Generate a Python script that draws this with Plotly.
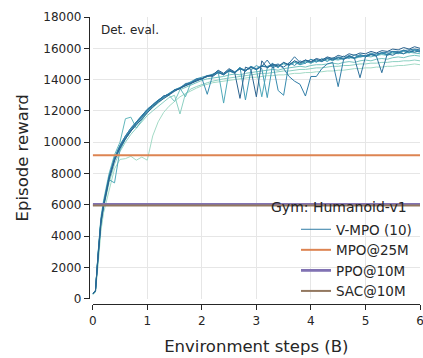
import plotly.graph_objects as go

# ---------------- data ----------------
STEPS = [0, 0.05, 0.1, 0.15,
         0.2, 0.3, 0.4, 0.5, 0.6, 0.7, 0.8, 0.9, 1.0, 1.1,
         1.2, 1.3, 1.4, 1.5, 1.6, 1.7, 1.8, 1.9, 2.0, 2.1,
         2.2, 2.3, 2.4, 2.5, 2.6, 2.7, 2.8, 2.9, 3.0, 3.1,
         3.2, 3.3, 3.4, 3.5, 3.6, 3.7, 3.8, 3.9, 4.0, 4.1,
         4.2, 4.3, 4.4, 4.5, 4.6, 4.7, 4.8, 4.9, 5.0, 5.1,
         5.2, 5.3, 5.4, 5.5, 5.6, 5.7, 5.8, 5.9, 6.0]

SEED_1 = [250, 400, 2200, 4300,
          5500, 7000, 8300, 8900, 8950, 9100, 8850, 9050, 8850, 10400,
          11300, 11900, 12300, 12600, 12900, 13100, 13300, 13450, 13600, 13700,
          13800, 13850, 13900, 13950, 14000, 14050, 14100, 14150, 14150, 14200,
          14250, 14250, 14300, 14300, 14350, 14400, 14400, 14450, 14450, 14500,
          14500, 14550, 14550, 14600, 14600, 14650, 14700, 14700, 14750, 14750,
          14800, 14800, 14850, 14850, 14900, 14900, 14950, 15000, 14950]
SEED_2 = [300, 450, 2500, 4600,
          5800, 7400, 8600, 9400, 10000, 10500, 10900, 11300, 11700, 12000,
          12300, 12600, 12850, 13000, 11800, 13100, 13400, 13550, 13700, 13800,
          13900, 14000, 14050, 14100, 14150, 14200, 14250, 14300, 14350, 14400,
          14400, 14450, 14500, 14550, 14550, 14600, 14650, 14650, 14700, 14750,
          14750, 14800, 14850, 14850, 14900, 14900, 14950, 15000, 15000, 15050,
          15050, 15100, 15100, 15150, 15150, 15200, 15200, 15250, 15200]
SEED_3 = [320, 520, 2900, 5000,
          6100, 7800, 8900, 9700, 10200, 10700, 11100, 11500, 11900, 12200,
          12500, 12800, 13000, 12600, 13350, 13500, 13700, 13850, 13950, 14050,
          14100, 14150, 14200, 14300, 14350, 14300, 14400, 14450, 14500, 14550,
          14600, 14650, 14600, 14700, 14750, 14800, 14850, 14800, 14900, 14950,
          14950, 15000, 15050, 15000, 15100, 15150, 15100, 15200, 15250, 15200,
          15300, 15350, 15300, 15400, 15450, 15400, 15500, 15550, 15500]
SEED_4 = [280, 480, 3000, 5200,
          6300, 8000, 9200, 10000, 11500, 11600, 10900, 11400, 11900, 12300,
          12600, 12900, 13100, 13300, 13450, 12900, 13800, 13950, 14050, 14200,
          14300, 14450, 14350, 14550, 14500, 14700, 14600, 14750, 14650, 14850,
          14850, 14950, 14850, 15000, 14950, 15100, 15000, 15150, 15050, 15200,
          15200, 15250, 15300, 15250, 15350, 15400, 15350, 15450, 15500, 15450,
          15550, 15600, 15550, 15650, 15700, 15650, 15750, 15700, 15650]
SEED_5 = [300, 500, 2700, 4800,
          5900, 7600, 7400, 9500, 10200, 10700, 11200, 11600, 12000, 12300,
          12600, 12850, 13100, 13300, 13500, 13650, 13800, 13950, 14100, 14200,
          14300, 14500, 12500, 14550, 14400, 14700, 14550, 14800, 14650, 12900,
          14750, 14950, 14800, 15050, 14900, 15100, 14950, 15200, 15050, 15250,
          15150, 15350, 15200, 15400, 15300, 15500, 15350, 15550, 15450, 15600,
          15500, 15700, 15550, 15750, 15650, 15800, 15700, 15850, 15750]
SEED_6 = [310, 510, 2900, 5000,
          6100, 7800, 9000, 9800, 10400, 10900, 11300, 11700, 12100, 12400,
          12700, 12900, 13150, 13350, 13500, 13700, 13900, 14050, 14150, 14250,
          14350, 14500, 14300, 14650, 14450, 14800, 12700, 14600, 14900, 14700,
          12850, 15000, 14750, 15100, 14900, 15200, 14950, 15050, 15300, 15100,
          15350, 15150, 15400, 15300, 15500, 15350, 15600, 15450, 15500, 15700,
          15550, 15750, 15600, 15800, 15700, 15900, 15750, 15900, 15800]
SEED_7 = [290, 490, 2800, 4900,
          6000, 7700, 8900, 9700, 10300, 10800, 11200, 11600, 12000, 12350,
          12650, 12900, 13100, 13300, 13450, 13650, 13800, 13950, 14100, 13060,
          14300, 14550, 14350, 14600, 14450, 14750, 14600, 14850, 14700, 14900,
          14800, 15050, 13300, 13000, 15100, 14900, 15200, 15050, 15300, 15150,
          15250, 15400, 15300, 15450, 15350, 15550, 15400, 15600, 15500, 15650,
          15550, 15700, 15600, 15800, 15700, 15850, 15750, 15900, 15800]
SEED_8 = [300, 500, 2900, 5000,
          6100, 7800, 9000, 9800, 10400, 10900, 11300, 11700, 12100, 12400,
          12700, 12950, 13050, 13350, 13450, 13750, 13800, 14050, 14050, 14250,
          14250, 14450, 14350, 14600, 14450, 14700, 14550, 14800, 14650, 14850,
          14800, 14900, 15000, 14700, 14200, 13900, 13700, 12950, 14200, 14200,
          14700, 15000, 15100, 13550, 15300, 15450, 15400, 15500, 15550, 15600,
          15650, 15700, 15750, 15800, 15800, 15850, 15900, 15950, 15900]
SEED_9 = [310, 500, 2800, 4900,
          6000, 7700, 8900, 9700, 10300, 10800, 11250, 11650, 12050, 12350,
          12650, 12950, 13050, 13350, 13400, 13700, 13750, 14000, 14050, 14250,
          14200, 14450, 14300, 14550, 14450, 14700, 14550, 14800, 14650, 14850,
          15250, 14750, 14950, 14800, 15050, 15460, 15100, 15250, 15100, 15300,
          15150, 15350, 15250, 15400, 15300, 15500, 15350, 14120, 15450, 15600,
          15500, 14440, 15650, 15550, 15750, 15650, 15850, 15750, 15850]
SEED_10 = [300, 500, 2700, 4800,
           5900, 7600, 8800, 9600, 10200, 10700, 11100, 11500, 11900, 12250,
           12550, 12800, 13050, 13250, 13450, 13600, 13800, 13950, 14100, 14200,
           14300, 14600, 14400, 14700, 14500, 12800, 14800, 14650, 12900, 15200,
           14750, 15000, 14850, 15100, 14950, 15200, 15050, 15250, 15150, 15350,
           15250, 15450, 15350, 15550, 15450, 15650, 15550, 15700, 15650, 15800,
           15700, 15850, 15800, 15950, 15900, 16050, 15950, 16100, 16000]

SEEDS = [SEED_1, SEED_2, SEED_3, SEED_4, SEED_5,
         SEED_6, SEED_7, SEED_8, SEED_9, SEED_10]
SEED_COLORS = ["#a3dac6", "#8dd0c2", "#77c4bf", "#62b7bc", "#4fa9b9",
               "#419ab5", "#378bae", "#307ca6", "#2c6f9b", "#2a628e"]

BASELINE_NAMES = ["MPO@25M", "PPO@10M", "SAC@10M"]
BASELINE_VALUES = [9170, 6030, 5950]
BASELINE_COLORS = ["#dd8452", "#8172b3", "#937860"]
BASELINE_WIDTHS = [2, 2.8, 2]

X_RANGE = [0, 6]
X_TICKS = [0, 1, 2, 3, 4, 5, 6]
Y_TICKS = [0, 2000, 4000, 6000, 8000, 10000, 12000, 14000, 16000, 18000]

# ---------------- figure ----------------
W, H = 423, 358
ML, MR, MT, MB = 89, 3, 17, 54
PW, PH = W - ML - MR, H - MT - MB


def px_x(p):
    return (p - ML) / PW


def px_y(p):
    return (H - MB - p) / PH


FONT = "DejaVu Sans"
TXT = "#262626"

fig = go.Figure()

for i, (ys, col) in enumerate(zip(SEEDS, SEED_COLORS)):
    fig.add_trace(go.Scatter(
        x=STEPS, y=ys, mode="lines",
        line=dict(color=col, width=1),
        name="V-MPO (10)", legendgroup="vmpo",
        showlegend=(i == 7), legendrank=1,
        hoverinfo="skip"))

for k, (nm, v, col, w) in enumerate(zip(BASELINE_NAMES, BASELINE_VALUES,
                                        BASELINE_COLORS, BASELINE_WIDTHS)):
    fig.add_trace(go.Scatter(
        x=X_RANGE, y=[v, v], mode="lines",
        line=dict(color=col, width=w), name=nm,
        legendrank=2 + k, hoverinfo="skip"))

fig.update_layout(
    width=W, height=H,
    margin=dict(l=ML, r=MR, t=MT, b=MB, pad=0, autoexpand=False),
    paper_bgcolor="white", plot_bgcolor="white",
    font=dict(family=FONT, size=12, color=TXT),
    showlegend=True,
    legend=dict(
        x=px_x(296), y=px_y(214), xanchor="left", yanchor="top",
        bgcolor="rgba(0,0,0,0)", borderwidth=0,
        font=dict(family=FONT, size=13.5, color=TXT),
        itemwidth=30, tracegroupgap=0,
    ),
    xaxis=dict(
        domain=[px_x(92.7), 1], range=X_RANGE,
        anchor="free", position=0, automargin=False,
        tickvals=X_TICKS, ticks="outside", ticklen=5, tickwidth=1,
        tickcolor=TXT, showline=True, linecolor=TXT, linewidth=1.2,
        showgrid=True, gridcolor="#e6e6e6", gridwidth=1, zeroline=False,
        tickfont=dict(size=12, color=TXT), ticklabeloverflow="allow",
        title=dict(text="Environment steps (B)",
                   font=dict(size=16.5, color=TXT), standoff=13),
    ),
    yaxis=dict(
        domain=[(304 - 298.7) / PH, 1],
        range=[0, 18000], anchor="free", position=0, automargin=False,
        tickvals=Y_TICKS, tickformat="d", ticks="outside", ticklen=5,
        tickwidth=1, tickcolor=TXT, showline=True, linecolor=TXT,
        linewidth=1.2, showgrid=True, gridcolor="#e6e6e6", gridwidth=1,
        zeroline=False, tickfont=dict(size=12, color=TXT),
        title=dict(text="Episode reward", font=dict(size=16.5, color=TXT),
                   standoff=9),
    ),
    annotations=[
        dict(text="Det. eval.", xref="paper", yref="paper",
             x=px_x(99), y=px_y(30), xanchor="left", yanchor="middle",
             showarrow=False, font=dict(size=12, color=TXT)),
        dict(text="Gym: Humanoid-v1", xref="paper", yref="paper",
             x=px_x(409), y=px_y(207), xanchor="right", yanchor="middle",
             showarrow=False, font=dict(size=14, color=TXT)),
    ],
)

fig.write_html("out.html",
               config={"displayModeBar": False},
               post_script="document.body.style.margin='0px';"
                           "document.body.style.overflow='hidden';")
